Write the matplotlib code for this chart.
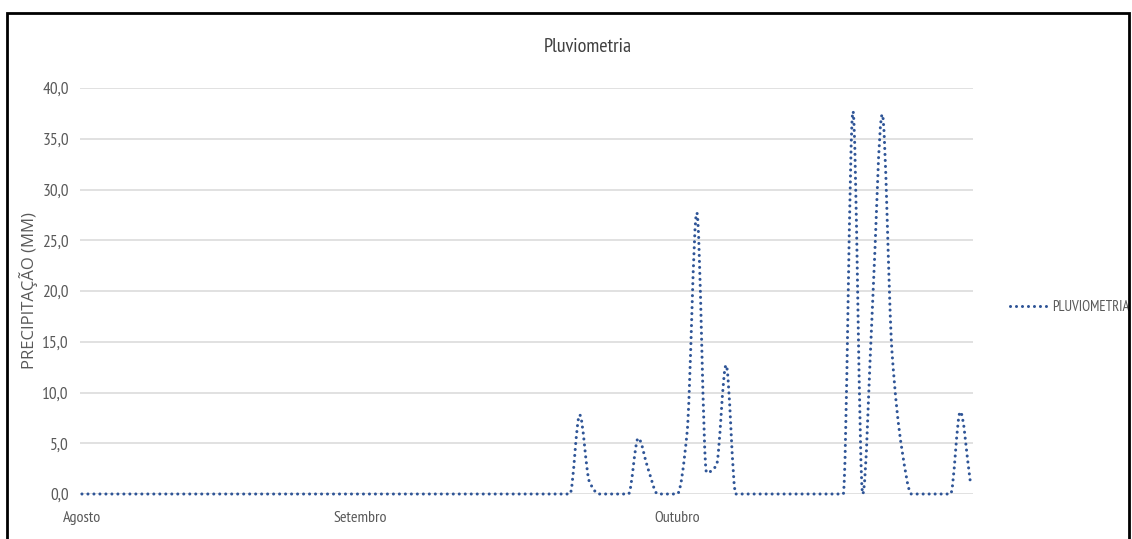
import numpy as np
import matplotlib
matplotlib.use("Agg")
import matplotlib.pyplot as plt
from matplotlib.path import Path
from matplotlib.patches import PathPatch, Rectangle
from matplotlib.lines import Line2D

# Daily rainfall (mm), 1 August to 31 October
rain = [
    0.0, 0.0, 0.0, 0.0, 0.0, 0.0, 0.0, 0.0, 0.0, 0.0,
    0.0, 0.0, 0.0, 0.0, 0.0, 0.0, 0.0, 0.0, 0.0, 0.0,
    0.0, 0.0, 0.0, 0.0, 0.0, 0.0, 0.0, 0.0, 0.0, 0.0,
    0.0, 0.0, 0.0, 0.0, 0.0, 0.0, 0.0, 0.0, 0.0, 0.0,
    0.0, 0.0, 0.0, 0.0, 0.0, 0.0, 0.0, 0.0, 0.0, 0.0,
    0.0, 7.8, 1.2, 0.0, 0.0, 0.0, 0.0, 5.5, 2.5, 0.0,
    0.0, 0.0, 6.0, 27.7, 2.1, 2.8, 12.7, 0.0, 0.0, 0.0,
    0.0, 0.0, 0.0, 0.0, 0.0, 0.0, 0.0, 0.0, 0.0, 37.7,
    0.0, 18.5, 37.4, 14.0, 4.5, 0.0, 0.0, 0.0, 0.0, 0.0,
    8.1, 1.4,
]
month_labels = ["Agosto", "Setembro", "Outubro"]
month_ticks = [0, 28.5, 61]
y_ticks = [0, 5, 10, 15, 20, 25, 30, 35, 40]

LINE_COLOR = "#2f5597"
TEXT_COLOR = "#595959"
GRID_COLOR = "#d9d9d9"
NARROW = ["PT Sans Narrow", "Liberation Sans Narrow", "DejaVu Sans"]

x = np.arange(len(rain), dtype=float)
y = np.asarray(rain, dtype=float)


def smooth_path(x, y):
    """Monotone cubic (Fritsch-Carlson) curve through the points, as Bezier segments."""
    d = np.diff(y) / np.diff(x)
    m = np.zeros_like(y)
    m[0], m[-1] = d[0], d[-1]
    for k in range(1, len(y) - 1):
        if d[k - 1] * d[k] > 0:
            m[k] = 2 * d[k - 1] * d[k] / (d[k - 1] + d[k])
    verts = [(x[0], y[0])]
    codes = [Path.MOVETO]
    for k in range(len(y) - 1):
        h = x[k + 1] - x[k]
        verts += [(x[k] + h / 3, y[k] + m[k] * h / 3),
                  (x[k + 1] - h / 3, y[k + 1] - m[k + 1] * h / 3),
                  (x[k + 1], y[k + 1])]
        codes += [Path.CURVE4] * 3
    return Path(verts, codes)


W, H = 1132, 539
fig = plt.figure(figsize=(W / 100, H / 100), dpi=100)
fig.patch.set_facecolor("white")

ax = fig.add_axes([80 / W, 1 - 494 / H, (973 - 80) / W, (494 - 88) / H])
ax.set_xlim(-0.2, 91.3)
ax.set_ylim(0, 40)

for s in ax.spines.values():
    s.set_visible(False)

ax.set_yticks(y_ticks)
ax.set_yticklabels([f"{v:.1f}".replace(".", ",") for v in y_ticks],
                   family=NARROW, fontsize=12.5, color=TEXT_COLOR)
ax.set_xticks(month_ticks)
ax.set_xticklabels(month_labels, family=NARROW, fontsize=11.5, color=TEXT_COLOR)
ax.tick_params(axis="both", length=0)
ax.tick_params(axis="y", pad=8)
ax.tick_params(axis="x", pad=12)
ax.yaxis.grid(True, color=GRID_COLOR, linewidth=1.1)
ax.xaxis.grid(False)
ax.set_axisbelow(True)

dots = (0, (0.01, 1.95))
curve = PathPatch(smooth_path(x, y), fill=False, edgecolor=LINE_COLOR,
                  linewidth=2.2, linestyle=dots, capstyle="round",
                  clip_on=False, zorder=3)
ax.add_patch(curve)

ax.set_ylabel("PRECIPITAÇÃO (MM)", fontsize=12, color=TEXT_COLOR,
              family=["Open Sans", "DejaVu Sans"])
ax.yaxis.set_label_coords(-0.047, 0.5)

fig.text(588 / W, 1 - 47 / H, "Pluviometria", ha="center", va="center",
         fontsize=14.5, color="#404040", family=NARROW)

handle = Line2D([], [], color=LINE_COLOR, linewidth=2.2, linestyle=dots,
                dash_capstyle="round")
ax.legend([handle], ["PLUVIOMETRIA"], loc="center left",
          bbox_to_anchor=((1010 - 80) / 893, (494 - 307) / 406),
          frameon=False, borderpad=0, borderaxespad=0, handlelength=2.7,
          handletextpad=0.2, prop={"family": NARROW, "size": 10.5},
          labelcolor=TEXT_COLOR)

# chart frame (open at the bottom edge of the image)
fig.add_artist(Rectangle((7 / W, -0.02), (1129 - 7) / W, 1.02 - 13 / H,
                         transform=fig.transFigure, fill=False,
                         edgecolor="black", linewidth=2.0))

fig.savefig("out.png", dpi=100)
